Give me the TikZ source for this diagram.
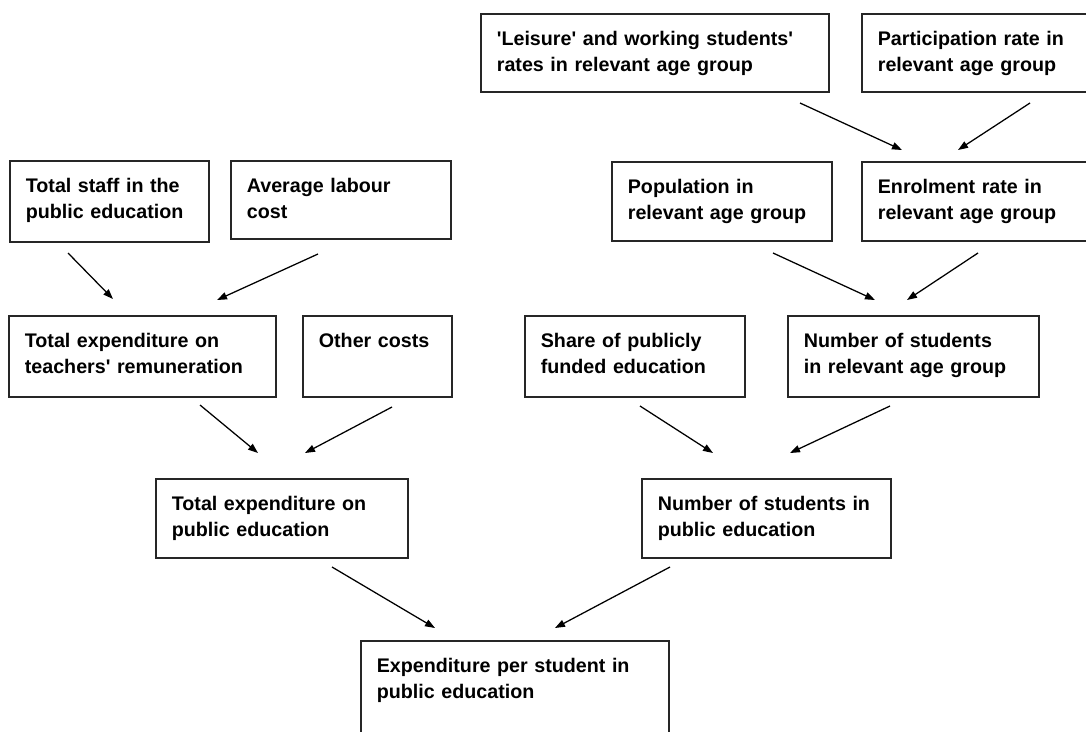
\documentclass[tikz,border=0pt]{standalone}
\usepackage{fontspec}
\newfontfamily\boxfont{Liberation Sans}
\usepackage{tikz}
\usetikzlibrary{arrows.meta}

\tikzset{
box/.style={draw=black!85, line width=1.2pt, anchor=north west, align=left, inner xsep=0.4cm, inner ysep=0pt, text height=0.78cm, font=\boxfont\fontsize{14}{18.5}\selectfont\bfseries},
link/.style={line width=0.9pt, -{Triangle[length=0.25cm,width=0.18cm]}}
}

\begin{document}
\begin{tikzpicture}[x=0.025cm,y=-0.025cm]
\useasboundingbox (0,0) rectangle (1086,731);
\node[box, text width=7.9cm, text depth=1.175cm] (leisure) at (480,13) {'Leisure' and working students'\\rates in relevant age group};
\node[box, text width=4.875cm, text depth=1.175cm] (particip) at (861,13) {Participation rate in\\relevant age group};
\node[box, text width=4.7cm, text depth=1.2cm] (pop) at (611,161) {Population in\\relevant age group};
\node[box, text width=4.875cm, text depth=1.2cm] (enrol) at (861,161) {Enrolment rate in\\relevant age group};
\node[box, text width=4.175cm, text depth=1.25cm] (staff) at (9,160) {Total staff in the\\public education};
\node[box, text width=4.7cm, text depth=1.175cm] (labour) at (230,160) {Average labour\\cost};
\node[box, text width=5.875cm, text depth=1.25cm] (teach) at (8,315) {Total expenditure on\\teachers' remuneration};
\node[box, text width=2.925cm, text depth=1.25cm] (other) at (302,315) {Other costs};
\node[box, text width=4.7cm, text depth=1.25cm] (share) at (524,315) {Share of publicly\\funded education};
\node[box, text width=5.475cm, text depth=1.25cm] (nrel) at (787,315) {Number of students\\in relevant age group};
\node[box, text width=5.5cm, text depth=1.2cm] (totpub) at (155,478) {Total expenditure on\\public education};
\node[box, text width=5.425cm, text depth=1.2cm] (npub) at (641,478) {Number of students in\\public education};
\node[box, text width=6.9cm, text depth=2.225cm] (perstud) at (360,640) {Expenditure per student in\\public education};

\coordinate (leisure-a) at (800,103);
\coordinate (particip-a) at (1030,103);
\coordinate (enrol-l) at (902,150);
\coordinate (enrol-r) at (958,150);
\coordinate (pop-a) at (773,253);
\coordinate (enrol-a) at (978,253);
\coordinate (nrel-l) at (875,300);
\coordinate (nrel-r) at (907,300);
\coordinate (staff-a) at (68,253);
\coordinate (labour-a) at (318,254);
\coordinate (teach-l) at (113,299);
\coordinate (teach-r) at (217,300);
\coordinate (teach-a) at (200,405);
\coordinate (other-a) at (392,407);
\coordinate (totpub-l) at (258,453);
\coordinate (totpub-r) at (305,453);
\coordinate (share-a) at (640,406);
\coordinate (nrel-a) at (890,406);
\coordinate (npub-l) at (713,453);
\coordinate (npub-r) at (790,453);
\coordinate (totpub-a) at (332,567);
\coordinate (npub-a) at (670,567);
\coordinate (perstud-l) at (435,628);
\coordinate (perstud-r) at (555,628);

\draw[link] (leisure-a)--(enrol-l);
\draw[link] (particip-a)--(enrol-r);
\draw[link] (pop-a)--(nrel-l);
\draw[link] (enrol-a)--(nrel-r);
\draw[link] (staff-a)--(teach-l);
\draw[link] (labour-a)--(teach-r);
\draw[link] (teach-a)--(totpub-l);
\draw[link] (other-a)--(totpub-r);
\draw[link] (share-a)--(npub-l);
\draw[link] (nrel-a)--(npub-r);
\draw[link] (totpub-a)--(perstud-l);
\draw[link] (npub-a)--(perstud-r);
\end{tikzpicture}
\end{document}
